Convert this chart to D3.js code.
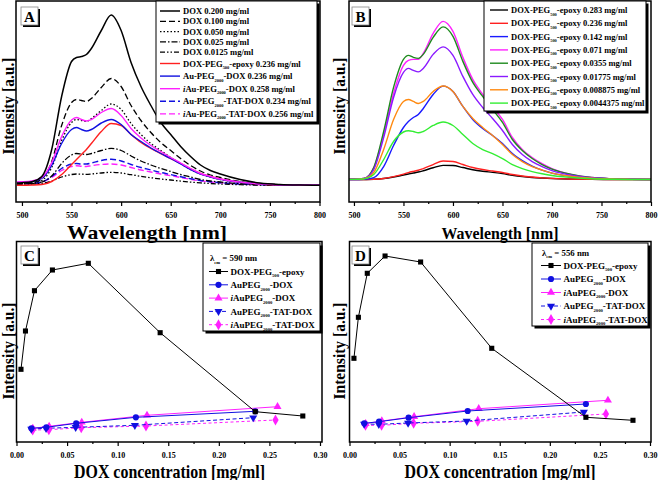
<!DOCTYPE html>
<html lang="en">
<head>
<meta charset="utf-8">
<title>DOX fluorescence</title>
<script src="https://cdn.jsdelivr.net/npm/d3@7"></script>
<style>
body { margin: 0; background: #fff; }
text { font-family: "Liberation Serif", "Times New Roman", serif; font-weight: bold; fill: #000; }
</style>
</head>
<body>
<script>
// ---- data ----
// wavelengths shared by every spectrum (nm)
var wavelengths = [495,500,510,520,530,540,550,555,560,565,570,580,590,600,610,620,630,640,650,660,670,680,690,700,720,740,760,780,800];
var waveTicks = [500,550,600,650,700,750,800];
var waveMinor = [525,575,625,675,725,775];

// panel A spectra (a.u.)
var aDox200 = [2.5,2.8,3.8,9,36,89,124,128,129,131,137,155,170.5,155,123,99,80,63,51,39,29,20.5,15,11.5,6,2.5,1,0.4,0.2];
var aDox100 = [2,2.2,3,6.5,24,60,83,86,85,84,87,98,107,99,80,65,53,43,35,27,20,14.5,10.5,8,4,1.8,0.8,0.3,0.2];
var aDox050 = [1.8,2,2.6,5,18,45,63,66,65,64,67,75,81.5,76,62,51,42,35,28,22,16,11.5,8.5,6,3,1.4,0.6,0.3,0.2];
var aDox025 = [1.5,1.6,2,3.5,9.5,22,30.5,32,31.5,31,32,35,37.2,35,29.5,24.5,20.5,17,14,11,8.5,6,4.5,3.5,1.8,0.9,0.4,0.2,0.1];
var aDox0125 = [1.2,1.3,1.5,2.2,4.5,8.5,11,11.5,11.3,11.2,11.5,12.5,13.2,12.5,10.8,9.2,7.8,6.5,5.5,4.4,3.4,2.6,2,1.5,0.8,0.4,0.2,0.1,0.1];
var aPegEpoxy = [0.3,0.3,0.5,1,4,11,21,26,31,36,42,54,62,60,51,43,37,32,27,22,16.5,12,9,6.5,3.3,1.5,0.6,0.3,0.2];
var aAuDox = [3,3.2,4,7,20,42,56,58,56,54.5,56,62.5,66,61,51,44,37.5,32,27,21.5,16,11.5,8.5,6.2,3.3,1.6,0.7,0.3,0.2];
var aIAuDox = [3.5,3.7,4.5,8,23,49,65.5,68,66,64.5,66,73,77,70,57,47.5,40,34,28,22.5,17,12,9,6.5,3.4,1.6,0.7,0.3,0.2];
var aAuTatDox = [1.5,1.6,2,3.5,9,17,21.5,22,21.5,21.5,22.5,25,26.2,24.5,21,18,15.5,13,11,8.8,6.8,5,3.8,2.8,1.5,0.8,0.4,0.2,0.1];
var aIAuTatDox = [1.4,1.5,1.9,3.2,8,15,19,19.8,19.3,19,19.8,21,21.5,20.5,18,15.5,13.5,11.5,9.8,8,6.2,4.6,3.5,2.6,1.4,0.7,0.3,0.2,0.1];
var aLegend = ["DOX 0.200 mg/ml","DOX 0.100 mg/ml","DOX 0.050 mg/ml","DOX 0.025 mg/ml","DOX 0.0125 mg/ml",
  "DOX-PEG_{500}-epoxy 0.236 mg/ml","Au-PEG_{2000}-DOX 0.236 mg/ml","*i*Au-PEG_{2000}-DOX 0.258 mg/ml",
  "Au-PEG_{2000}-TAT-DOX 0.234 mg/ml","*i*Au-PEG_{2000}-TAT-DOX 0.256 mg/ml"];

// panel B spectra (a.u.)
var b0283 = [0,0,0.1,0.3,1,2.5,4.5,5.5,6.5,7.5,8.8,11.8,14.2,14,12,9.8,8.3,7.2,6,4.3,3,2.1,1.5,1,0.5,0.2,0.1,0,0];
var b0236 = [0,0,0.1,0.3,1,3,5.5,7,8.2,9.3,11,15,18.5,18,15,12,10,8.5,7,5,3.5,2.5,1.7,1.2,0.6,0.3,0.1,0,0];
var b0142 = [0,0,0.2,2,13,34,52,58,62,65,71,85,93.3,88,73,60,51,44,36,26,19,13.5,9.5,6.5,3.2,1.3,0.5,0.2,0];
var b0071 = [0.3,0.3,1,12,45,86,114,119,120,120,126,146,158,148,122,100,85,72,60,42,30,22,16,11,5,2,0.8,0.3,0];
var b00355 = [0.3,0.3,1,12,48,92,120,124,122,121,125,142,152.5,143,118,97,83,70,57,40,29,21,15,10.5,5,2,0.8,0.3,0];
var b001775 = [0.3,0.3,1,10,42,82,107,111,109,107.5,111,125,132.5,124,103,85,72,61,49,35,25,18,13,9,4.3,1.8,0.7,0.3,0];
var b0008875 = [0.2,0.2,0.8,7,30,60,78,80,78,76,78,88,93.5,88,73,61,52,44,35,25,18,13,9.5,6.5,3.2,1.3,0.5,0.2,0];
var b00044375 = [0.2,0.2,0.7,5,20,38,47.5,48.7,48,46.7,48,54,57.5,54,45,36,30,26,21,15,11,8,5.8,4,2,0.8,0.3,0.1,0];
var bLegend = ["0.283","0.236","0.142","0.071","0.0355","0.01775","0.008875","0.0044375"];

// panels C and D: concentrations (mg/ml) and intensities (a.u.)
var concTicks = [0,0.05,0.10,0.15,0.20,0.25,0.30];
var concMinor = [0.025,0.075,0.125,0.175,0.225,0.275];
var pegConc = [0.0044375,0.008875,0.01775,0.0355,0.071,0.142,0.236,0.283];
var auConc = [0.01475,0.0295,0.059,0.118,0.236];
var iauConc = [0.016125,0.03225,0.0645,0.129,0.258];
var auTatConc = [0.014625,0.02925,0.0585,0.117,0.234];
var iauTatConc = [0.016,0.032,0.064,0.128,0.256];

var cPeg = [72.7,111,151.3,172,178.7,109.3,30.3,26];
var cAu = [13.7,14.7,18.7,24.7,30.7];
var cIAu = [13.7,15.7,19.7,26.7,35.3];
var cAuTat = [13,13.7,14.7,16.7,24.3];
var cIAuTat = [12,12.3,14.3,16,22];

var dPeg = [83.7,124.7,168.7,186,180,93.7,24.7,21.7];
var dAu = [18.7,20.3,24.3,31,38];
var dIAu = [18.3,21,25.3,33.3,41.7];
var dAuTat = [18,17.7,19,21,30];
var dIAuTat = [16.7,16.7,18.7,20.7,28];

var cdLegend = ["DOX-PEG_{500}-epoxy","AuPEG_{2000}-DOX","*i*AuPEG_{2000}-DOX","AuPEG_{2000}-TAT-DOX","*i*AuPEG_{2000}-TAT-DOX"];

// ---- drawing ----
var svg = d3.select("body").append("svg").attr("width", 658).attr("height", 480);

// text with _{sub} and *italic* pieces
function rich(sel, str, size) {
  var parts = str.split(/(_\{[^}]*\}|\*[^*]*\*)/).filter(function(s) { return s.length; });
  var down = false;
  parts.forEach(function(p) {
    var t = sel.append("tspan");
    if (p[0] === "_") {
      t.text(p.slice(2, -1)).attr("font-size", size * 0.52).attr("dy", size * 0.3);
      down = true;
    } else {
      if (p[0] === "*") t.text(p.slice(1, -1)).attr("font-style", "italic");
      else t.text(p);
      if (down) { t.attr("dy", -size * 0.3); down = false; }
    }
  });
}

function frame(x0, y0, x1, y1) {
  svg.append("rect").attr("x", x0).attr("y", y0).attr("width", x1 - x0).attr("height", y1 - y0)
    .attr("fill", "none").attr("stroke", "#000").attr("stroke-width", 1.5);
}

function bottomAxis(x, y, major, minor, fmt) {
  var g = svg.append("g").attr("transform", "translate(0," + y + ")");
  g.call(d3.axisBottom(x).tickValues(major).tickSize(4).tickPadding(6).tickFormat(fmt));
  var m = g.append("g").call(d3.axisBottom(x).tickValues(minor).tickSize(2));
  m.selectAll("text").remove();
  g.selectAll(".domain").remove();
  g.selectAll("line").attr("stroke", "#000").attr("stroke-width", 1.2);
  g.selectAll("text").attr("font-size", 8).attr("font-family", null);
}

// boxed panel letter with drop shadow
function panelTag(x, y, letter) {
  svg.append("rect").attr("x", x + 2).attr("y", y + 2).attr("width", 17).attr("height", 18).attr("fill", "#000");
  svg.append("rect").attr("x", x).attr("y", y).attr("width", 17).attr("height", 18)
    .attr("fill", "#fff").attr("stroke", "#888").attr("stroke-width", 0.8);
  svg.append("text").attr("x", x + 8.5).attr("y", y + 14.5).attr("text-anchor", "middle")
    .attr("font-size", 15).text(letter);
}

function legendBox(x, y, w, h) {
  svg.append("rect").attr("x", x + 2.5).attr("y", y + 2.5).attr("width", w).attr("height", h).attr("fill", "#000");
  svg.append("rect").attr("x", x).attr("y", y).attr("width", w).attr("height", h)
    .attr("fill", "#fff").attr("stroke", "#000").attr("stroke-width", 1);
}

function titles(xTitle, size, xc, xb, xLen, yc, yb) {
  svg.append("text").attr("x", xc).attr("y", xb).attr("text-anchor", "middle")
    .attr("font-size", size).attr("textLength", xLen).attr("lengthAdjust", "spacingAndGlyphs").text(xTitle);
  svg.append("text").attr("text-anchor", "middle").attr("font-size", 17)
    .attr("textLength", 97).attr("lengthAdjust", "spacingAndGlyphs")
    .attr("transform", "translate(" + yb + "," + yc + ") rotate(-90)").text("Intensity [a.u.]");
}

// ---------- Panel A ----------
var xA = d3.scaleLinear().domain([494, 800]).range([16, 319.5]);
var yA = d3.scaleLinear().domain([-16.5, 184.5]).range([202, 1]);
var lineA = d3.line().x(function(d, i) { return xA(wavelengths[i]); }).y(function(d) { return yA(d); }).curve(d3.curveMonotoneX);

var aSeries = [
  { v: aDox200, c: "#000", dash: null, w: 1.5 },
  { v: aDox100, c: "#000", dash: "6,3", w: 1.3 },
  { v: aDox050, c: "#000", dash: "1.5,2", w: 1.3 },
  { v: aDox025, c: "#000", dash: "6,2,1.5,2", w: 1.3 },
  { v: aDox0125, c: "#000", dash: "5,2,1.5,2,1.5,2", w: 1.3 },
  { v: aPegEpoxy, c: "#ff2020", dash: null, w: 1.4 },
  { v: aAuDox, c: "#1010e0", dash: null, w: 1.4 },
  { v: aIAuDox, c: "#ff20ff", dash: null, w: 1.4 },
  { v: aAuTatDox, c: "#1010e0", dash: "6,3", w: 1.4 },
  { v: aIAuTatDox, c: "#ff20ff", dash: "6,3", w: 1.4 }
];
var drawOrderA = [9, 8, 4, 3, 2, 1, 5, 6, 7, 0];
drawOrderA.forEach(function(k) {
  var s = aSeries[k];
  svg.append("path").attr("d", lineA(s.v)).attr("fill", "none").attr("stroke", s.c)
    .attr("stroke-width", s.w).attr("stroke-dasharray", s.dash);
});
frame(16, 1, 320, 202);
bottomAxis(xA, 202, waveTicks, waveMinor, d3.format("d"));
panelTag(21, 7, "A");
legendBox(156, 1, 161, 121);
aLegend.forEach(function(lab, i) {
  var y = i < 5 ? 11 + i * 10.3 : 63.5 + (i - 5) * 12.6;
  var s = aSeries[i];
  svg.append("line").attr("x1", 160).attr("x2", 180).attr("y1", y).attr("y2", y)
    .attr("stroke", s.c).attr("stroke-width", s.w).attr("stroke-dasharray", s.dash);
  rich(svg.append("text").attr("x", 183).attr("y", y + 3).attr("font-size", 8.6), lab, 8.6);
});
titles("Wavelength [nm]", 19.5, 147, 239, 160, 106, 14);

// ---------- Panel B ----------
var xB = d3.scaleLinear().domain([495, 800]).range([349, 651]);
var yB = d3.scaleLinear().domain([-22.4, 178.3]).range([202, 1]);
var lineB = d3.line().x(function(d, i) { return xB(wavelengths[i]); }).y(function(d) { return yB(d); }).curve(d3.curveMonotoneX);
var bSeries = [
  { v: b0283, c: "#000" },
  { v: b0236, c: "#ff2020" },
  { v: b0142, c: "#1a1aff" },
  { v: b0071, c: "#ff20ff" },
  { v: b00355, c: "#1e8a1e" },
  { v: b001775, c: "#8a1aff" },
  { v: b0008875, c: "#ff8a10" },
  { v: b00044375, c: "#33ee33" }
];
bSeries.forEach(function(s) {
  svg.append("path").attr("d", lineB(s.v)).attr("fill", "none").attr("stroke", s.c).attr("stroke-width", 1.4);
});
frame(349, 1, 651, 202);
bottomAxis(xB, 202, waveTicks, waveMinor, d3.format("d"));
panelTag(352, 7, "B");
legendBox(484, 1, 162, 110);
bLegend.forEach(function(conc, i) {
  var y = 10 + i * 13.3;
  svg.append("line").attr("x1", 490).attr("x2", 508).attr("y1", y).attr("y2", y)
    .attr("stroke", bSeries[i].c).attr("stroke-width", 1.4);
  rich(svg.append("text").attr("x", 511).attr("y", y + 3).attr("font-size", 8.5),
    "DOX-PEG_{500}-epoxy " + conc + " mg/ml", 8.5);
});
titles("Wavelength [nm]", 17.5, 500, 239, 117, 106, 345);

// ---------- Panels C and D ----------
function concPanel(opt) {
  var x = d3.scaleLinear().domain([0, 0.30]).range([opt.x0, opt.x30]);
  var y = d3.scaleLinear().domain([0, 200]).range([442, 242]);
  var series = [
    { cx: pegConc, v: opt.peg, c: "#000", dash: null, sym: d3.symbolSquare, size: 26, rot: 0 },
    { cx: auConc, v: opt.au, c: "#1010e0", dash: null, sym: d3.symbolCircle, size: 30, rot: 0 },
    { cx: iauConc, v: opt.iau, c: "#ff20ff", dash: null, sym: d3.symbolTriangle, size: 28, rot: 0 },
    { cx: auTatConc, v: opt.auTat, c: "#1010e0", dash: "4,2.5", sym: d3.symbolTriangle, size: 28, rot: 180 },
    { cx: iauTatConc, v: opt.iauTat, c: "#ff20ff", dash: "3,2.5", sym: d3.symbolDiamond, size: 34, rot: 0 }
  ];
  var ln = d3.line().x(function(d) { return x(d[0]); }).y(function(d) { return y(d[1]); });
  [4, 3, 2, 1, 0].forEach(function(k) {
    var s = series[k];
    var pts = s.cx.map(function(c, i) { return [c, s.v[i]]; });
    svg.append("path").attr("d", ln(pts)).attr("fill", "none").attr("stroke", s.c)
      .attr("stroke-width", 1).attr("stroke-dasharray", s.dash);
    svg.selectAll(null).data(pts).enter().append("path")
      .attr("d", d3.symbol().type(s.sym).size(s.size))
      .attr("transform", function(d) { return "translate(" + x(d[0]) + "," + y(d[1]) + ") rotate(" + s.rot + ")"; })
      .attr("fill", s.c);
  });
  frame(opt.x0, 241.5, opt.x1, 442);
  bottomAxis(x, 442, concTicks, concMinor, d3.format(".2f"));
  panelTag(opt.tagX, 246, opt.tag);
  legendBox(opt.lx, 243, opt.lw, opt.lh);
  var lam = svg.append("text").attr("x", opt.sx0 + 1).attr("y", opt.lamY + 3).attr("font-size", 8.8);
  rich(lam, "\u03bb_{em} = " + opt.lambda + " nm", 8.8);
  cdLegend.forEach(function(lab, i) {
    var yy = opt.row0 + i * opt.rowStep;
    var s = series[i];
    svg.append("line").attr("x1", opt.sx0).attr("x2", opt.sx1).attr("y1", yy).attr("y2", yy)
      .attr("stroke", s.c).attr("stroke-width", 1).attr("stroke-dasharray", s.dash);
    svg.append("path").attr("d", d3.symbol().type(s.sym).size(s.size))
      .attr("transform", "translate(" + (opt.sx0 + opt.sx1) / 2 + "," + yy + ") rotate(" + s.rot + ")")
      .attr("fill", s.c);
    rich(svg.append("text").attr("x", opt.sx1 + 2.5).attr("y", yy + 3.2).attr("font-size", 9), lab, 9);
  });
  titles("DOX concentration [mg/ml]", 19, opt.xtc, opt.xtb, 191, 351, opt.ytb);
}

concPanel({ x0: 16.5, x30: 320, x1: 322, peg: cPeg, au: cAu, iau: cIAu, auTat: cAuTat, iauTat: cIAuTat,
  tag: "C", tagX: 21, lx: 203, lw: 117, lh: 88, sx0: 209, sx1: 228, lamY: 258, row0: 271.5, rowStep: 13.3,
  lambda: "590", xtc: 169.5, xtb: 477.5, ytb: 14 });
concPanel({ x0: 349.5, x30: 650, x1: 651, peg: dPeg, au: dAu, iau: dIAu, auTat: dAuTat, iauTat: dIAuTat,
  tag: "D", tagX: 352, lx: 532, lw: 116, lh: 83, sx0: 541, sx1: 561, lamY: 252.7, row0: 265.5, rowStep: 13.5,
  lambda: "556", xtc: 500, xtb: 477.5, ytb: 345 });
</script>
</body>
</html>
